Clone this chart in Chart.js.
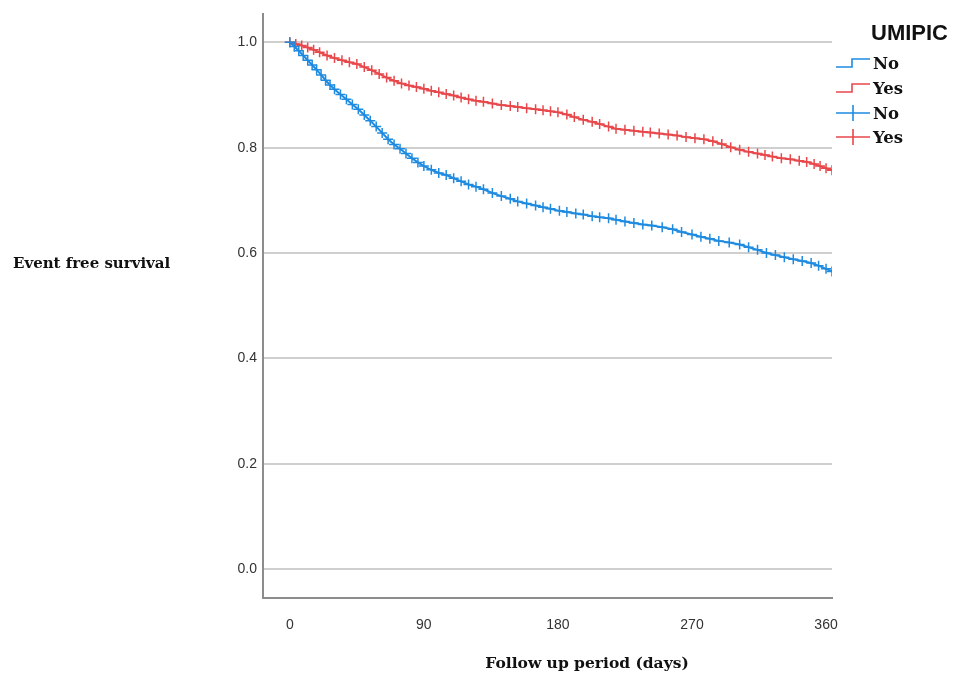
<!DOCTYPE html>
<html>
<head>
<meta charset="utf-8">
<script src="https://cdn.jsdelivr.net/npm/chart.js@4.4.1/dist/chart.umd.min.js"></script>
<style>
  html, body { margin: 0; padding: 0; background: #fff; }
  #wrap { position: relative; width: 956px; height: 677px; }
  #c { position: absolute; left: 0; top: 0; }
  #legend { position: absolute; left: 0; top: 0; width: 956px; height: 677px; pointer-events: none; }
  #legend .title { position: absolute; left: 871px; top: 19px; font-family: "Liberation Sans", Arial, sans-serif; font-weight: bold; font-size: 22px; color: #111; line-height: 28px; }
  #legend .item { position: absolute; left: 835px; height: 24px; display: flex; align-items: center; }
  #legend .item span { font-family: "DejaVu Serif", serif; font-weight: bold; font-size: 16.5px; color: #111; margin-left: 2px; }
</style>
</head>
<body>
<div id="wrap">
  <canvas id="c" width="956" height="677"></canvas>
  <div id="legend"></div>
</div>
<script>
// ---- Data ----
const seriesNames = ["No", "Yes"];
const legendTitle = "UMIPIC";
const xTicks = [0, 90, 180, 270, 360];
const yTicks = [0.0, 0.2, 0.4, 0.6, 0.8, 1.0];
const xTitle = "Follow up period (days)";
const yTitle = "Event free survival";

const noDays = [0, 3, 6, 9, 12, 15, 18, 21, 24, 27, 30, 34, 38, 42, 46, 50, 54, 58, 62, 66, 70, 74, 78, 82, 86, 90, 95, 100, 105, 110, 115, 120, 125, 130, 136, 142, 148, 153, 159, 165, 170, 175, 181, 186, 192, 197, 203, 208, 214, 219, 225, 231, 237, 243, 250, 257, 263, 270, 276, 282, 288, 295, 302, 308, 314, 320, 326, 332, 338, 344, 350, 355, 360, 364];
const noSurv = [1.000, 0.992, 0.984, 0.975, 0.966, 0.957, 0.948, 0.938, 0.928, 0.919, 0.911, 0.901, 0.892, 0.882, 0.873, 0.862, 0.851, 0.840, 0.828, 0.816, 0.806, 0.798, 0.789, 0.780, 0.772, 0.765, 0.758, 0.752, 0.748, 0.742, 0.736, 0.730, 0.726, 0.721, 0.714, 0.708, 0.703, 0.698, 0.694, 0.690, 0.687, 0.684, 0.680, 0.678, 0.675, 0.673, 0.670, 0.668, 0.666, 0.663, 0.660, 0.657, 0.654, 0.652, 0.649, 0.645, 0.640, 0.635, 0.631, 0.627, 0.623, 0.620, 0.616, 0.611, 0.606, 0.600, 0.596, 0.592, 0.588, 0.585, 0.581, 0.576, 0.570, 0.565];

const yesDays = [0, 4, 8, 12, 16, 20, 25, 30, 35, 40, 45, 50, 55, 60, 65, 70, 75, 80, 85, 90, 95, 100, 105, 110, 115, 120, 125, 130, 136, 142, 148, 153, 159, 165, 170, 175, 180, 186, 191, 197, 203, 208, 214, 219, 225, 231, 237, 242, 248, 254, 260, 266, 272, 278, 284, 290, 296, 302, 308, 314, 319, 324, 330, 336, 342, 347, 352, 356, 360, 364];
const yesSurv = [1.000, 0.997, 0.994, 0.990, 0.986, 0.981, 0.975, 0.970, 0.966, 0.962, 0.959, 0.953, 0.947, 0.940, 0.933, 0.927, 0.922, 0.918, 0.915, 0.912, 0.908, 0.905, 0.902, 0.899, 0.895, 0.892, 0.889, 0.887, 0.884, 0.881, 0.879, 0.877, 0.875, 0.873, 0.871, 0.869, 0.867, 0.863, 0.858, 0.853, 0.849, 0.845, 0.840, 0.836, 0.834, 0.832, 0.830, 0.829, 0.827, 0.825, 0.823, 0.820, 0.818, 0.816, 0.812, 0.807, 0.801, 0.796, 0.792, 0.789, 0.786, 0.783, 0.780, 0.778, 0.775, 0.773, 0.769, 0.765, 0.761, 0.757];

const blue = "#1f8be0";
const red = "#e8484b";

function pts(d, s) { return d.map((x, i) => ({ x: x, y: s[i] })); }

// ---- Legend (HTML) ----
function stepIcon(color) {
  return '<svg width="36" height="14"><path d="M1 11 H17 V3 H35" fill="none" stroke="' + color + '" stroke-width="1.6"/></svg>';
}
function crossIcon(color) {
  return '<svg width="36" height="20"><path d="M1 10 H35 M18 2 V18" fill="none" stroke="' + color + '" stroke-width="1.6"/></svg>';
}
const lg = document.getElementById("legend");
const rowsY = [63, 88, 113, 137];
const icons = [stepIcon(blue), stepIcon(red), crossIcon(blue), crossIcon(red)];
const names = [seriesNames[0], seriesNames[1], seriesNames[0], seriesNames[1]];
let html = '<div class="title">' + legendTitle + '</div>';
for (let i = 0; i < 4; i++) {
  html += '<div class="item" style="top:' + (rowsY[i] - 12) + 'px">' + icons[i] + '<span>' + names[i] + '</span></div>';
}
lg.innerHTML = html;

// ---- Axis titles plugin ----
const titlesPlugin = {
  id: "axisTitles",
  afterDraw(chart) {
    const ctx = chart.ctx;
    ctx.save();
    ctx.fillStyle = "#111";
    ctx.textBaseline = "middle";
    ctx.font = "bold 15px 'DejaVu Serif', serif";
    ctx.textAlign = "left";
    ctx.fillText(yTitle, 13, 264);
    ctx.font = "bold 15.5px 'DejaVu Serif', serif";
    ctx.textAlign = "center";
    ctx.fillText(xTitle, 587, 664);
    ctx.restore();
  }
};

const commonDs = {
  borderWidth: 2,
  stepped: false,
  tension: 0,
  pointStyle: "cross",
  pointRadius: 5,
  pointBorderWidth: 1.5
};

new Chart(document.getElementById("c"), {
  type: "line",
  data: {
    datasets: [
      Object.assign({}, commonDs, {
        label: seriesNames[0],
        data: pts(noDays, noSurv),
        borderColor: blue,
        backgroundColor: blue,
        pointBorderColor: blue
      }),
      Object.assign({}, commonDs, {
        label: seriesNames[1],
        data: pts(yesDays, yesSurv),
        borderColor: red,
        backgroundColor: red,
        pointBorderColor: red
      })
    ]
  },
  options: {
    responsive: false,
    animation: false,
    layout: { padding: { top: 12, right: 124, left: 0, bottom: 0 } },
    plugins: {
      legend: { display: false },
      tooltip: { enabled: false }
    },
    scales: {
      x: {
        type: "linear",
        min: -18,
        max: 364,
        afterBuildTicks(scale) { scale.ticks = xTicks.map(v => ({ value: v })); },
        afterFit(scale) { scale.height = 79; },
        grid: { display: false },
        border: { display: true, color: "#8c8c8c", width: 2 },
        ticks: {
          color: "#333",
          font: { family: "'Liberation Sans', Arial, sans-serif", size: 14 },
          padding: 11,
          maxRotation: 0
        }
      },
      y: {
        type: "linear",
        min: -0.055,
        max: 1.053,
        afterBuildTicks(scale) { scale.ticks = yTicks.map(v => ({ value: v })); },
        afterFit(scale) { scale.width = 263; },
        grid: {
          color: "#cfcfcf",
          lineWidth: 2,
          drawTicks: false
        },
        border: { display: true, color: "#8c8c8c", width: 2 },
        ticks: {
          color: "#333",
          font: { family: "'Liberation Sans', Arial, sans-serif", size: 14 },
          padding: 6,
          callback: v => v.toFixed(1)
        }
      }
    }
  },
  plugins: [titlesPlugin]
});
</script>
</body>
</html>
